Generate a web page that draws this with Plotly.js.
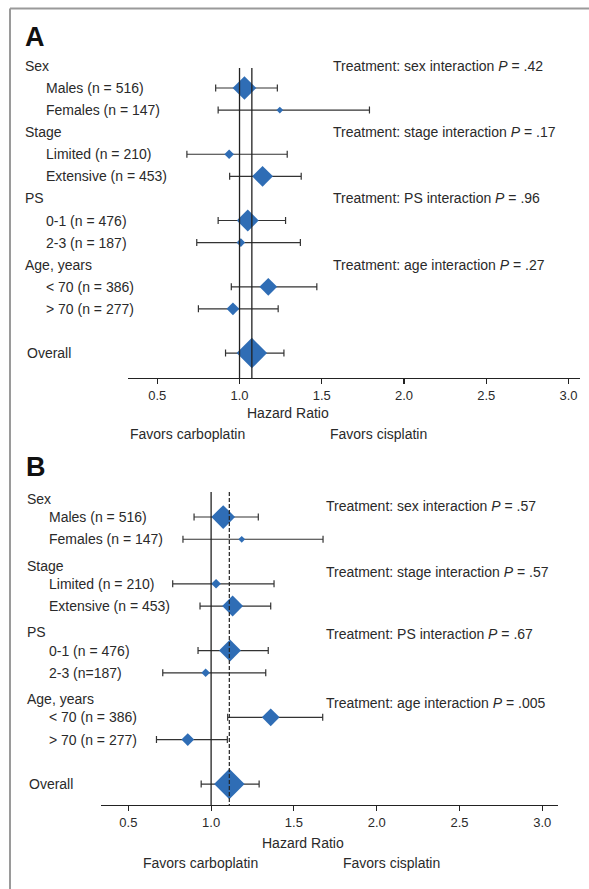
<!DOCTYPE html>
<html>
<head>
<meta charset="utf-8">
<script src="https://cdn.plot.ly/plotly-3.0.1.min.js"></script>
<style>html,body{margin:0;padding:0;background:#fff;}#chart{width:589px;height:889px;}</style>
</head>
<body>
<div id="chart"></div>
<script>
// ---------- DATA ----------
const groupLabels = ['Sex', 'Stage', 'PS', 'Age, years'];
const subgroupLabelsA = ['Males (n = 516)', 'Females (n = 147)', 'Limited (n = 210)', 'Extensive (n = 453)',
  '0-1 (n = 476)', '2-3 (n = 187)', '&lt; 70 (n = 386)', '&gt; 70 (n = 277)', 'Overall'];
const subgroupLabelsB = ['Males (n = 516)', 'Females (n = 147)', 'Limited (n = 210)', 'Extensive (n = 453)',
  '0-1 (n = 476)', '2-3 (n=187)', '&lt; 70 (n = 386)', '&gt; 70 (n = 277)', 'Overall'];
const nPatients = [516, 147, 210, 453, 476, 187, 386, 277, 663];

const hrA = [1.03, 1.245, 0.937, 1.14, 1.05, 1.008, 1.175, 0.96, 1.075];
const loA = [0.855, 0.87, 0.68, 0.94, 0.87, 0.74, 0.95, 0.75, 0.915];
const hiA = [1.23, 1.79, 1.29, 1.375, 1.28, 1.37, 1.47, 1.235, 1.27];

const hrB = [1.073, 1.185, 1.03, 1.13, 1.114, 0.967, 1.36, 0.859, 1.11];
const loB = [0.897, 0.83, 0.768, 0.933, 0.921, 0.708, 1.10, 0.67, 0.94];
const hiB = [1.285, 1.676, 1.38, 1.36, 1.345, 1.33, 1.674, 1.098, 1.29];

const interactionA = ['Treatment: sex interaction <i>P</i> = .42', 'Treatment: stage interaction <i>P</i> = .17',
  'Treatment: PS interaction <i>P</i> = .96', 'Treatment: age interaction <i>P</i> = .27'];
const interactionB = ['Treatment: sex interaction <i>P</i> = .57', 'Treatment: stage interaction <i>P</i> = .57',
  'Treatment: PS interaction <i>P</i> = .67', 'Treatment: age interaction <i>P</i> = .005'];

const tickValues = [0.5, 1.0, 1.5, 2.0, 2.5, 3.0];
const nullValue = 1.0;
const axisTitle = 'Hazard Ratio';
const favorsLeft = 'Favors carboplatin';
const favorsRight = 'Favors cisplatin';
const panelLetters = ['A', 'B'];

// ---------- LAYOUT / STYLE ----------
const W = 589, H = 889;
const FONT = '"Liberation Sans", Arial, Helvetica, sans-serif';
const TXT = '#2a2a2a';
const BLUE = '#2f6db5';
const subRows = [1, 2, 4, 5, 7, 8, 10, 11, 13];
const groupRows = [0, 3, 6, 9];
const px = v => v / W;
const py = v => 1 - v / H;

function trace(hr, lo, hi, xa, ya) {
  return {
    type: 'scatter', mode: 'markers', xaxis: xa, yaxis: ya,
    x: hr, y: subRows,
    marker: { symbol: 'diamond', color: BLUE, opacity: 1, size: nPatients.map(n => n * 0.0354), line: { width: 0 } },
    error_x: { type: 'data', symmetric: false,
      array: hi.map((h, i) => h - hr[i]), arrayminus: lo.map((l, i) => hr[i] - l),
      color: '#333', thickness: 1.2, width: 3.5 },
    hoverinfo: 'skip', showlegend: false, cliponaxis: false
  };
}

const data = [trace(hrA, loA, hiA, 'x', 'y'), trace(hrB, loB, hiB, 'x2', 'y2')];

const annotations = [];
function addLabels(labels, groupX, subX, yref, yshiftGroup) {
  groupLabels.forEach((g, i) => annotations.push({
    text: g, xref: 'paper', x: px(groupX), xanchor: 'left', yref: yref, y: groupRows[i], yanchor: 'middle',
    yshift: yshiftGroup, showarrow: false, font: { family: FONT, size: 14, color: TXT }
  }));
  labels.forEach((l, i) => {
    const overall = i === labels.length - 1;
    annotations.push({
      text: l, xref: 'paper', x: px(overall ? groupX + 2 : subX), xanchor: 'left', yref: yref, y: subRows[i],
      yanchor: 'middle', showarrow: false, font: { family: FONT, size: 14, color: TXT }
    });
  });
}
addLabels(subgroupLabelsA, 23, 44, 'y', 0);
addLabels(subgroupLabelsB, 25, 47, 'y2', -4);

interactionA.forEach((t, i) => annotations.push({
  text: t, xref: 'paper', x: px(331), xanchor: 'left', yref: 'y', y: groupRows[i], yanchor: 'middle',
  showarrow: false, font: { family: FONT, size: 14, color: TXT }
}));
interactionB.forEach((t, i) => annotations.push({
  text: t, xref: 'paper', x: px(324), xanchor: 'left', yref: 'y2', y: groupRows[i], yanchor: 'middle',
  yshift: [-11, -10, -6, -8][i], showarrow: false, font: { family: FONT, size: 14, color: TXT }
}));

function addFooter(hrCenter, hrY, leftX, rightX, favY) {
  annotations.push({ text: axisTitle, xref: 'paper', yref: 'paper', x: px(hrCenter), y: py(hrY),
    xanchor: 'center', yanchor: 'middle', showarrow: false, font: { family: FONT, size: 14, color: TXT } });
  annotations.push({ text: favorsLeft, xref: 'paper', yref: 'paper', x: px(leftX), y: py(favY),
    xanchor: 'left', yanchor: 'middle', showarrow: false, font: { family: FONT, size: 14, color: TXT } });
  annotations.push({ text: favorsRight, xref: 'paper', yref: 'paper', x: px(rightX), y: py(favY),
    xanchor: 'left', yanchor: 'middle', showarrow: false, font: { family: FONT, size: 14, color: TXT } });
}
addFooter(288, 413, 128, 328, 434);
addFooter(303, 843, 141, 341, 863);

annotations.push({ text: '<b>' + panelLetters[0] + '</b>', xref: 'paper', yref: 'paper', x: px(23), y: py(37),
  xanchor: 'left', yanchor: 'middle', showarrow: false, font: { family: FONT, size: 27, color: '#111' } });
annotations.push({ text: '<b>' + panelLetters[1] + '</b>', xref: 'paper', yref: 'paper', x: px(24), y: py(467),
  xanchor: 'left', yanchor: 'middle', showarrow: false, font: { family: FONT, size: 27, color: '#111' } });

const rangeA = [14.13, -0.494];
const rangeB = [13.94, -0.663];

const shapes = [
  // outer frame
  { type: 'line', xref: 'paper', yref: 'paper', x0: px(10), x1: 1.02, y0: py(8.5), y1: py(8.5),
    line: { color: '#9a9a9a', width: 2 } },
  { type: 'line', xref: 'paper', yref: 'paper', x0: px(10), x1: px(10), y0: py(8.5), y1: -0.02,
    line: { color: '#9a9a9a', width: 2 } },
  // panel A reference lines
  { type: 'line', xref: 'x', yref: 'y', x0: nullValue, x1: nullValue, y0: 0.1, y1: rangeA[0],
    line: { color: '#222', width: 1.3 }, layer: 'above' },
  { type: 'line', xref: 'x', yref: 'y', x0: hrA[hrA.length - 1], x1: hrA[hrA.length - 1], y0: 0.1, y1: rangeA[0],
    line: { color: '#222', width: 1.3 }, layer: 'above' },
  // panel B reference lines
  { type: 'line', xref: 'x2', yref: 'y2', x0: nullValue, x1: nullValue, y0: -0.12, y1: rangeB[0],
    line: { color: '#222', width: 1.3 }, layer: 'above' },
  { type: 'line', xref: 'x2', yref: 'y2', x0: hrB[hrB.length - 1], x1: hrB[hrB.length - 1], y0: -0.12, y1: rangeB[0],
    line: { color: '#222', width: 1.2, dash: '4px,2px' }, layer: 'above' }
];

function xAxis(domain, range, anchor) {
  return {
    domain: domain, range: range, anchor: anchor, autorange: false,
    tickmode: 'array', tickvals: tickValues, tickformat: '.1f',
    ticks: 'outside', ticklen: 5, tickwidth: 1.2, tickcolor: '#222',
    showline: true, linecolor: '#222', linewidth: 1.4, showgrid: false, zeroline: false,
    tickfont: { family: FONT, size: 13, color: TXT }, fixedrange: true
  };
}
function yAxis(domain, range, anchor) {
  return {
    domain: domain, range: range, anchor: anchor, autorange: false,
    showticklabels: false, ticks: '', showline: false, showgrid: false, zeroline: false, fixedrange: true
  };
}

const layout = {
  width: W, height: H,
  margin: { l: 0, r: 0, t: 0, b: 0 },
  paper_bgcolor: '#fff', plot_bgcolor: 'rgba(0,0,0,0)',
  font: { family: FONT, color: TXT },
  xaxis: xAxis([px(128), px(580)], [0.322, 3.07], 'y'),
  yaxis: yAxis([py(378), py(55)], rangeA, 'x'),
  xaxis2: xAxis([px(101), px(558)], [0.335, 3.095], 'y2'),
  yaxis2: yAxis([py(805), py(480)], rangeB, 'x2'),
  annotations: annotations,
  shapes: shapes,
  showlegend: false
};

Plotly.newPlot('chart', data, layout, { displayModeBar: false, staticPlot: true });
</script>
</body>
</html>
